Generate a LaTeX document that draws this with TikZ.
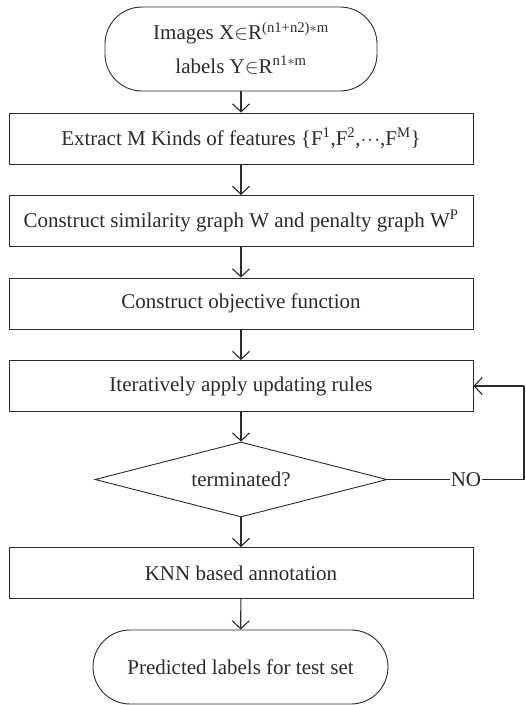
\documentclass[tikz,border=0pt]{standalone}
\usepackage{fontspec}
\setmainfont{Liberation Serif}
\usetikzlibrary{shapes.geometric,arrows.meta}
\definecolor{ink}{HTML}{2B2B2B}
\tikzset{
  every node/.style={font=\fontsize{21}{25}\selectfont, text=ink},
  stepbox/.style={draw=ink, line width=0.9pt, minimum width=464pt, minimum height=51pt, inner sep=0pt},
  terminal/.style={draw=ink, line width=0.9pt, rounded corners=37pt, inner sep=0pt},
  decision/.style={draw=ink, line width=0.9pt, diamond, aspect=3.9, inner sep=0pt},
  flow/.style={draw=ink, line width=1.1pt, -{Straight Barb[length=8pt,width=17pt,line width=1.1pt]}},
  plain/.style={draw=ink, line width=1.1pt}
}
\begin{document}
\begin{tikzpicture}[x=1pt,y=-1pt]
  \useasboundingbox (0,0) rectangle (526,705);

  % start terminal
  \node[terminal, minimum width=272pt, minimum height=84pt] (start) at (241,49) {};
  \node (startA) at (241,33) {Images X$\in$R\textsuperscript{(n1+n2)$\ast$m}};
  \node (startB) at (241,65) {labels Y$\in$R\textsuperscript{n1$\ast$m}};

  % processing steps
  \node[stepbox] (feat) at (241,138.5)
    {Extract M Kinds of features \{F\textsuperscript{1},F\textsuperscript{2},$\cdot\!\cdot\!\cdot$,F\textsuperscript{M}\}};
  \node[stepbox] (graph) at (241,221)
    {Construct similarity graph W and penalty graph W\textsuperscript{P}};
  \node[stepbox] (obj) at (241,303.5) {Construct objective function};
  \node[stepbox] (iter) at (241,386) {Iteratively apply updating rules};

  % convergence test
  \node[decision, minimum width=292pt, minimum height=75pt] (test) at (241,479.5) {terminated?};

  \node[stepbox] (knn) at (241,573) {KNN based annotation};

  % end terminal
  \node[terminal, minimum width=295pt, minimum height=74pt] (stop) at (240.5,667)
    {Predicted labels for test set};

  % main flow
  \draw[flow] (start) -- (feat);
  \draw[flow] (feat) -- (graph);
  \draw[flow] (graph) -- (obj);
  \draw[flow] (obj) -- (iter);
  \draw[flow] (iter) -- (test);
  \draw[flow] (test) -- (knn);
  \draw[flow] (knn) -- (stop);

  % loop back when not terminated
  \coordinate (turnlow) at (524,479.5);
  \coordinate (turnhigh) at (524,386);
  \draw[plain] (test.east) -- (turnlow) -- (turnhigh);
  \draw[flow] (turnhigh) -- (iter.east);
  \node[fill=white, inner sep=1pt] (no) at (466,479.5) {NO};
\end{tikzpicture}
\end{document}
